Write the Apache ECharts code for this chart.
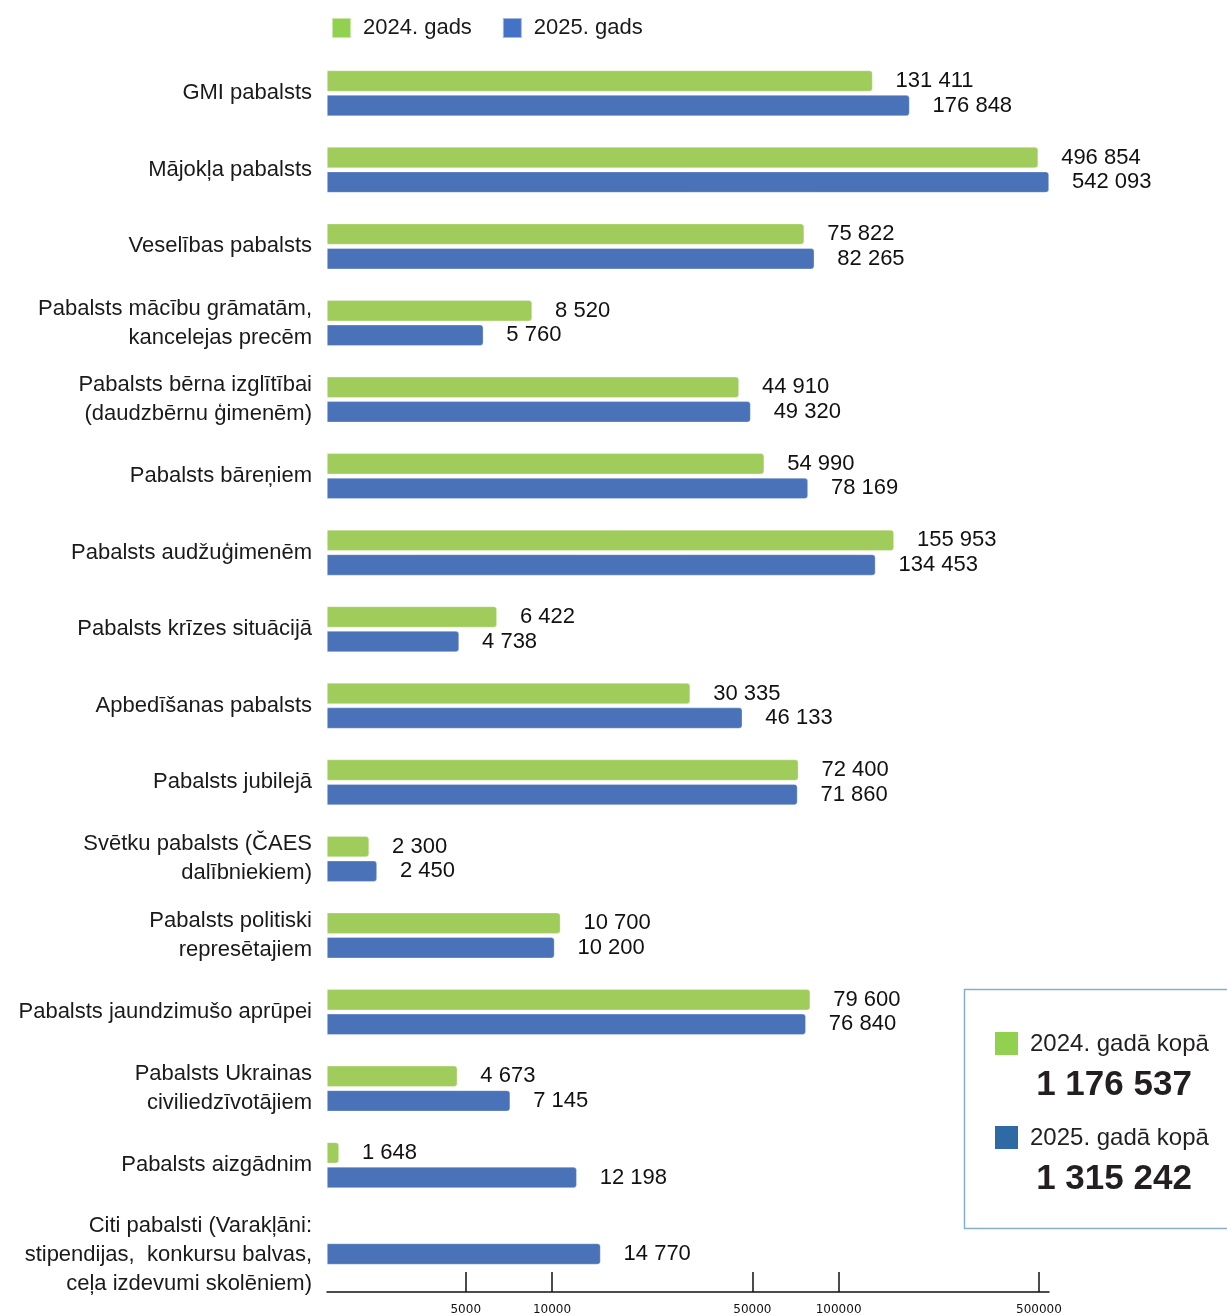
<!DOCTYPE html>
<html>
<head>
<meta charset="utf-8">
<script src="https://cdn.jsdelivr.net/npm/echarts@6/dist/echarts.min.js"></script>
<style>
  html, body { margin: 0; padding: 0; background: #fff; }
  #chart { width: 1227px; height: 1316px; }
</style>
</head>
<body>
<div id="chart"></div>
<script>
const categories = [
  'GMI pabalsts',
  'Mājokļa pabalsts',
  'Veselības pabalsts',
  'Pabalsts mācību grāmatām,\nkancelejas precēm',
  'Pabalsts bērna izglītībai\n(daudzbērnu ģimenēm)',
  'Pabalsts bāreņiem',
  'Pabalsts audžuģimenēm',
  'Pabalsts krīzes situācijā',
  'Apbedīšanas pabalsts',
  'Pabalsts jubilejā',
  'Svētku pabalsts (ČAES\ndalībniekiem)',
  'Pabalsts politiski\nrepresētajiem',
  'Pabalsts jaundzimušo aprūpei',
  'Pabalsts Ukrainas\nciviliedzīvotājiem',
  'Pabalsts aizgādnim',
  'Citi pabalsti (Varakļāni:\nstipendijas,  konkursu balvas,\nceļa izdevumi skolēniem)'
]
const values2024 = [131411, 496854, 75822, 8520, 44910, 54990, 155953, 6422, 30335, 72400, 2300, 10700, 79600, 4673, 1648, null]
const values2025 = [176848, 542093, 82265, 5760, 49320, 78169, 134453, 4738, 46133, 71860, 2450, 10200, 76840, 7145, 12198, 14770]
const xTicks = [5000, 10000, 50000, 100000, 500000]
const seriesNames = ['2024. gads', '2025. gads']
const totalLabels = ['2024. gadā kopā', '2025. gadā kopā']
const totals = ['1 176 537', '1 315 242']

const font = '"Liberation Sans", Arial, sans-serif'
const green = '#a0cc5b'
const blue = '#4a72b8'

const fmt = v => String(v).replace(/\B(?=(\d{3})+(?!\d))/g, ' ')

const chart = echarts.init(document.getElementById('chart'))

const barSeries = (name, data, color) => ({
  name,
  type: 'bar',
  data,
  barWidth: 21,
  barGap: '17%',
  barMinHeight: 12,
  itemStyle: { color, borderRadius: [0, 3, 3, 0], borderColor: 'rgba(255,255,255,0.5)', borderWidth: 0.6 },
  label: {
    show: true,
    position: 'right',
    distance: 23,
    fontFamily: font,
    fontSize: 22,
    color: '#111',
    formatter: p => fmt(p.value)
  }
})

// the last (three-line) category label sits a bit lower than its band in the original
const catLabel = (v, i) => {
  if (i !== categories.length - 1) return v
  return '{p| }\n' + v.split('\n').map(s => '{a|' + s + '}').join('\n')
}

chart.setOption({
  animation: false,
  legend: {
    left: 331,
    top: 17,
    padding: 0,
    itemWidth: 19,
    itemHeight: 20,
    itemGap: 30,
    icon: 'rect',
    textStyle: { fontFamily: font, fontSize: 22, color: '#1a1a1a', padding: [0, 0, 0, 7] },
    data: [
      { name: seriesNames[0], itemStyle: { color: '#92d050' } },
      { name: seriesNames[1], itemStyle: { color: '#4472c4' } }
    ]
  },
  grid: { left: 327, right: 178, top: 55, height: 1225 },
  xAxis: {
    type: 'log',
    min: 1640,
    max: 542093,
    startValue: 1640,
    offset: 12,
    axisLine: { show: true, lineStyle: { color: '#111', width: 1.5 } },
    axisTick: { show: true, inside: true, length: 20, customValues: xTicks, lineStyle: { color: '#111', width: 1.5 } },
    axisLabel: { customValues: xTicks, margin: 12, fontFamily: 'DejaVu Sans', fontSize: 12, color: '#111', formatter: v => String(v) },
    splitLine: { show: false },
    minorTick: { show: false }
  },
  yAxis: {
    type: 'category',
    inverse: true,
    data: categories,
    axisLine: { show: false },
    axisTick: { show: false },
    axisLabel: {
      margin: 15,
      fontFamily: font,
      fontSize: 22,
      lineHeight: 29,
      color: '#1a1a1a',
      formatter: catLabel,
      rich: {
        p: { fontSize: 10, lineHeight: 26 },
        a: { fontFamily: font, fontSize: 22, lineHeight: 29, color: '#1a1a1a' }
      }
    }
  },
  series: [
    barSeries(seriesNames[0], values2024, green),
    barSeries(seriesNames[1], values2025, blue)
  ],
  graphic: [
    { type: 'rect', shape: { x: 964.5, y: 989.5, width: 280, height: 239 }, style: { fill: '#fff', stroke: '#86afcb', lineWidth: 1.5 } },
    { type: 'rect', shape: { x: 995, y: 1032, width: 23, height: 23 }, style: { fill: '#92d050' } },
    { type: 'text', x: 1030, y: 1044, style: { text: totalLabels[0], font: '24px ' + font, fill: '#231f20', verticalAlign: 'middle' } },
    { type: 'text', x: 1114, y: 1085, style: { text: totals[0], font: 'bold 35px ' + font, fill: '#231f20', align: 'center', verticalAlign: 'middle' } },
    { type: 'rect', shape: { x: 995, y: 1126, width: 23, height: 23 }, style: { fill: '#2e6aa3' } },
    { type: 'text', x: 1030, y: 1138, style: { text: totalLabels[1], font: '24px ' + font, fill: '#231f20', verticalAlign: 'middle' } },
    { type: 'text', x: 1114, y: 1179, style: { text: totals[1], font: 'bold 35px ' + font, fill: '#231f20', align: 'center', verticalAlign: 'middle' } }
  ]
})
</script>
</body>
</html>
